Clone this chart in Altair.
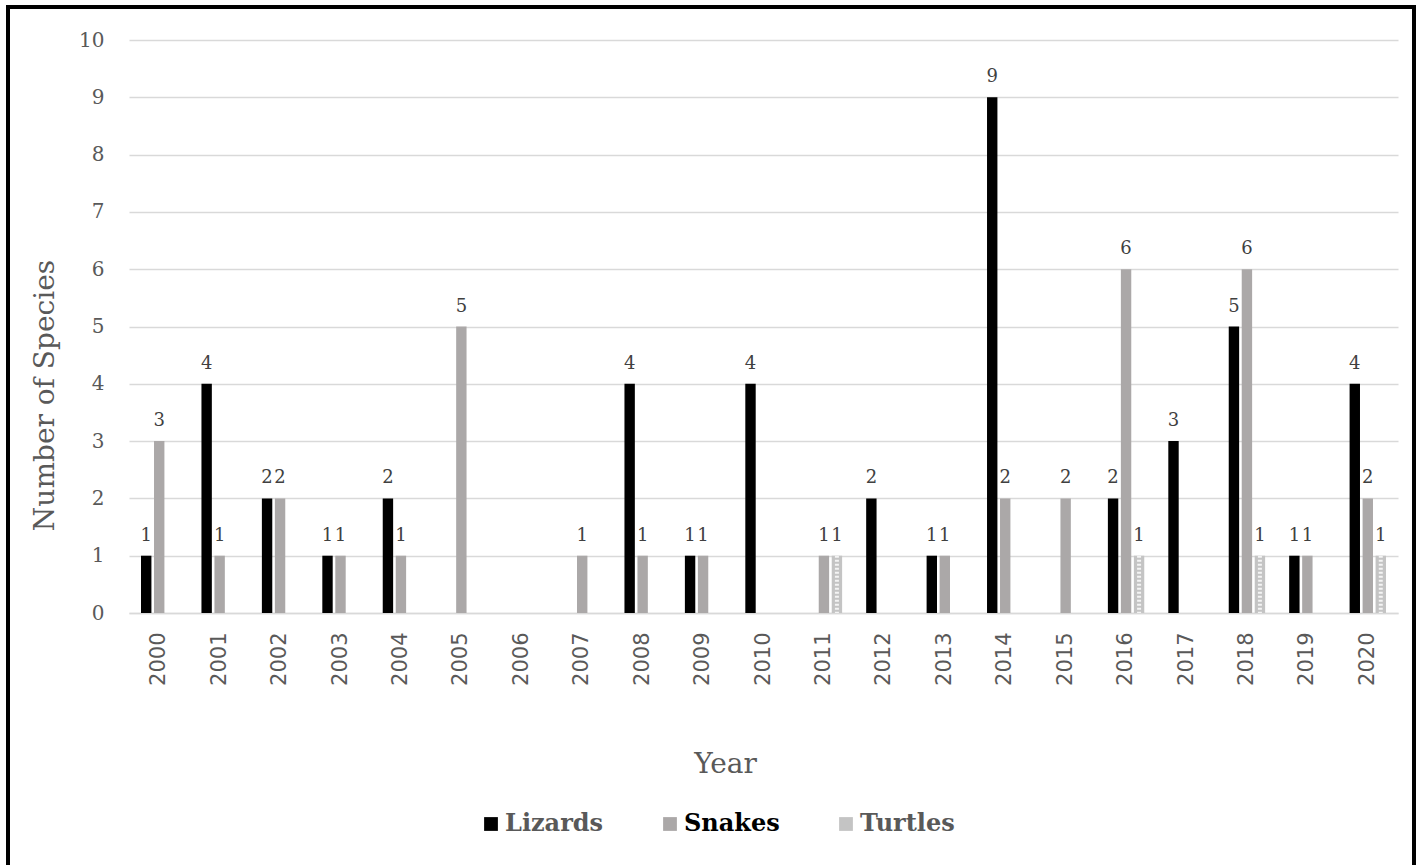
import altair as alt
import pandas as pd

# Species described per year, by group (None = no species that year)
years = [str(y) for y in range(2000, 2021)]
lizards = [1, 4, 2, 1, 2, None, None, None, 4, 1, 4, None, 2, 1, 9, None, 2, 3, 5, 1, 4]
snakes = [3, 1, 2, 1, 1, 5, None, 1, 1, 1, None, 1, None, 1, 2, 2, 6, None, 6, 1, 2]
turtles = [None, None, None, None, None, None, None, None, None, None, None, 1, None, None, None, None, 1, None, 1, None, 1]

series_names = ["Lizards", "Snakes", "Turtles"]
series_colors = ["#000000", "#aba8a8", "#c4c4c4"]

rows = []
for name, vals in zip(series_names, [lizards, snakes, turtles]):
    for yr, v in zip(years, vals):
        if v is not None:
            rows.append({"Year": yr, "Group": name, "Count": v})
df = pd.DataFrame(rows)

GRID = "#d9d9d9"
TXT = "#595959"

x_enc = alt.X(
    "Year:N",
    scale=alt.Scale(domain=years, paddingInner=0.355, paddingOuter=0.1775),
    axis=alt.Axis(
        title="Year",
        labelAngle=-90,
        labelFont="DejaVu Sans",
        labelFontSize=21,
        labelColor=TXT,
        labelPadding=19,
        ticks=False,
        domainColor=GRID,
        domainWidth=1.5,
        titleFont="DejaVu Serif",
        titleFontSize=28,
        titleFontWeight="normal",
        titleColor=TXT,
        titleX=596,
        titleY=159,
        titleAlign="center",
        titleBaseline="alphabetic",
    ),
)
xoff_enc = alt.XOffset(
    "Group:N",
    scale=alt.Scale(domain=series_names, paddingInner=0.2, paddingOuter=0.1),
)
y_enc = alt.Y(
    "Count:Q",
    scale=alt.Scale(domain=[0, 10], nice=False),
    axis=alt.Axis(
        title="Number of Species",
        values=list(range(0, 11)),
        format="d",
        labelFont="DejaVu Serif",
        labelFontSize=20,
        labelColor=TXT,
        labelPadding=25,
        ticks=False,
        domain=False,
        gridColor=GRID,
        gridWidth=1.5,
        titleFont="DejaVu Serif",
        titleFontSize=28,
        titleFontWeight="normal",
        titleColor=TXT,
        titleX=-76,
        titleY=355,
        titleAngle=270,
        titleAlign="center",
        titleBaseline="alphabetic",
    ),
)

base = alt.Chart(df)

bars = base.mark_bar().encode(
    x=x_enc,
    xOffset=xoff_enc,
    y=y_enc,
    color=alt.Color(
        "Group:N",
        scale=alt.Scale(domain=series_names, range=series_colors),
        legend=alt.Legend(
            title=None,
            orient="none",
            direction="horizontal",
            legendX=350,
            legendY=772,
            padding=0,
            symbolType="square",
            symbolSize=190,
            symbolStrokeWidth=0,
            labelFont="DejaVu Serif",
            labelFontSize=24,
            labelFontWeight="bold",
            labelColor={"expr": "datum.label == 'Snakes' ? '#000000' : '#595959'"},
            labelOffset=2,
            columnPadding=54,
        ),
    ),
)

# dotted texture on the turtle bars
texture = base.transform_filter(alt.datum.Group == "Turtles").mark_rule(
    color="#f4f4f4", strokeWidth=4, strokeDash=[2, 2]
).encode(
    x=alt.X("Year:N"),
    xOffset=alt.XOffset("Group:N"),
    y=alt.Y("Count:Q"),
    y2=alt.datum(0),
)

labels = base.mark_text(
    font="DejaVu Serif", fontSize=18, color="#404040", baseline="alphabetic", dy=-15
).encode(
    x=alt.X("Year:N"),
    xOffset=alt.XOffset("Group:N"),
    y=alt.Y("Count:Q"),
    text=alt.Text("Count:Q"),
)

# outer frame around the figure
frame = alt.Chart(alt.Data(values=[{}])).mark_rect(
    fillOpacity=0, stroke="#000000", strokeWidth=4
).encode(
    x=alt.value(-121),
    x2=alt.value(1285),
    y=alt.value(-33),
    y2=alt.value(860),
)

chart = (
    alt.layer(bars, texture, labels, frame)
    .properties(
        width=1269,
        height=573,
        padding={"left": 129, "top": 40, "right": 23, "bottom": 252},
        autosize=alt.AutoSizeParams(type="none"),
        background="#ffffff",
    )
    .configure_view(stroke=None)
)

chart.save("out.html", embed_options={"renderer": "svg", "actions": False})
